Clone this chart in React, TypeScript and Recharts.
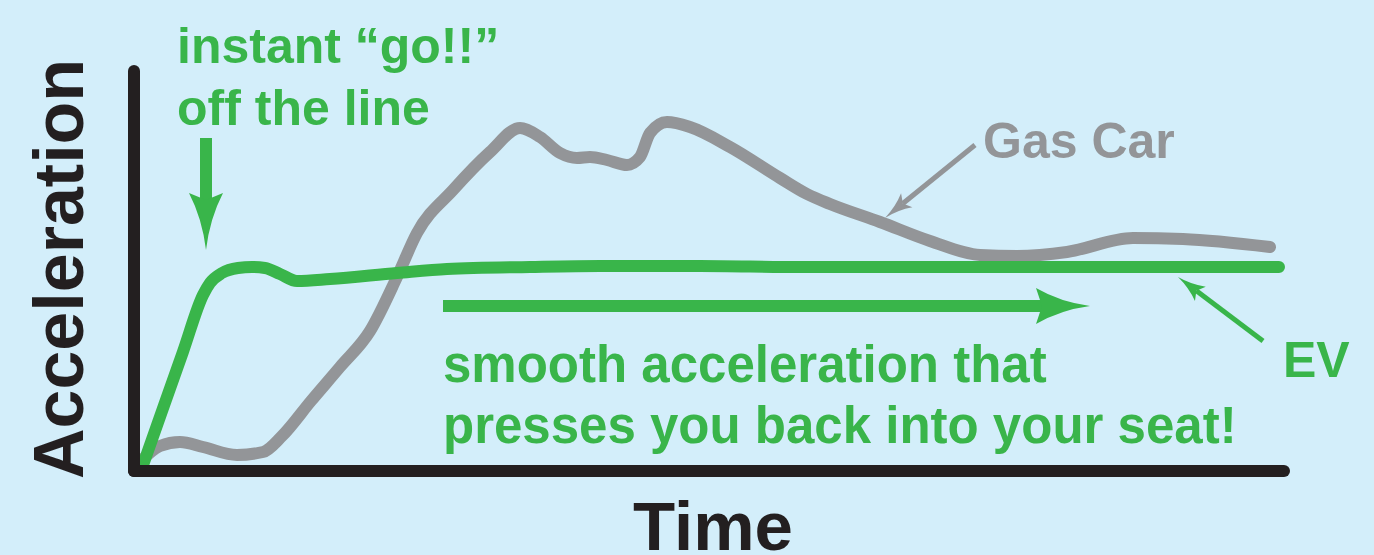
import { LineChart, Line, XAxis, YAxis, ReferenceLine, ReferenceDot, Label } from "recharts";

// time runs 0..115, acceleration 0..100 (arbitrary units)
const gasTime = [0.6, 2.6, 4.6, 6.9, 10.3, 12.9, 14.8, 17.7, 20.6, 23.6, 26.3, 28.3, 31.9, 35.6, 38.6, 40.6, 42.6, 44.3, 45.6, 47.3, 49.3, 50.6, 51.6, 53.3, 55.6, 59.6, 64.6, 67.3, 69.6, 74.6, 79.6, 84.6, 88.3, 93.3, 99.9, 104.9, 113.6];
const gasAccel = [2.25, 6.25, 7.25, 6, 4, 4.75, 8.75, 17.5, 26, 35, 48.5, 59.5, 70.25, 79.75, 85.75, 83.5, 79.5, 78.25, 78.5, 77.75, 76.5, 78.5, 84.5, 87.25, 86, 81, 73.25, 69.25, 66.75, 62.25, 57.5, 54, 53.75, 54.75, 58.25, 58, 56];

const evTime = [0.9, 2.9, 4.9, 6.9, 7.6, 8.8, 10.4, 11.8, 13.1, 14.6, 16.3, 19.6, 26.3, 31.3, 39.6, 46.6, 56.6, 66.6, 86.6, 114.5];
const evAccel = [1.5, 15.67, 29.83, 44, 47, 49.5, 50.75, 51, 50.75, 49.25, 47.5, 48, 49.5, 50.5, 51, 51.25, 51.25, 51, 51, 51];

const gasData = gasTime.map((t, i) => ({ t, a: gasAccel[i] }));
const evData = evTime.map((t, i) => ({ t, a: evAccel[i] }));

const GREEN = "#39b54a";
const GRAY = "#939598";
const INK = "#231f20";
const BG = "#d3eefa";
const FONT = "'Liberation Sans', Arial, Helvetica, sans-serif";

// arrow shape for a ReferenceLine segment, head at the second point
const arrow = (color: string, w: number, L: number, H: number, N: number) => (p: any) => {
  const { x1, y1, x2, y2 } = p;
  const len = Math.hypot(x2 - x1, y2 - y1) || 1;
  const ux = (x2 - x1) / len;
  const uy = (y2 - y1) / len;
  const vx = -uy;
  const vy = ux;
  const P = (b: number, q: number) => `${x2 - b * ux + q * vx},${y2 - b * uy + q * vy}`;
  const d = `M${P(0, 0)} Q${P(L * 0.55, H * 0.22)} ${P(L, H)} L${P(N, 0)} L${P(L, -H)} Q${P(L * 0.55, -H * 0.22)} ${P(0, 0)} Z`;
  return (
    <g>
      <line x1={x1} y1={y1} x2={x2 - N * ux} y2={y2 - N * uy} stroke={color} strokeWidth={w} />
      <path d={d} fill={color} />
    </g>
  );
};

const note = (lines: string[], color: string, size: number, lineGap: number) => (p: any) => (
  <text x={p.cx} y={p.cy} fill={color} fontFamily={FONT} fontWeight={700} fontSize={size}>
    {lines.map((s, i) => (
      <tspan key={i} x={p.cx} dy={i === 0 ? 0 : lineGap}>
        {s}
      </tspan>
    ))}
  </text>
);

const YTitle = ({ viewBox }: any) => {
  const x = viewBox.x + 9;
  const y = viewBox.y + viewBox.height / 2 - 2;
  return (
    <text x={x} y={y} transform={`rotate(-90 ${x} ${y})`} textAnchor="middle" fill={INK} fontFamily={FONT} fontWeight={700} fontSize={70}>
      Acceleration
    </text>
  );
};

const XTitle = ({ viewBox }: any) => (
  <text x={viewBox.x + viewBox.width / 2 + 4} y={viewBox.y + 79} textAnchor="middle" fill={INK} fontFamily={FONT} fontWeight={700} fontSize={69}>
    Time
  </text>
);

export default function App() {
  return (
    <div style={{ position: "absolute", left: 0, top: 0, width: 1374, height: 555, background: BG, overflow: "hidden" }}>
      <LineChart width={1374} height={555} margin={{ top: 71, right: 90, left: 74, bottom: 54 }}>
        <XAxis
          dataKey="t"
          type="number"
          domain={[0, 115]}
          height={30}
          tick={false}
          tickLine={false}
          axisLine={{ stroke: INK, strokeWidth: 12, strokeLinecap: "round" }}
        >
          <Label content={XTitle} />
        </XAxis>
        <YAxis
          type="number"
          domain={[0, 100]}
          width={60}
          tick={false}
          tickLine={false}
          axisLine={{ stroke: INK, strokeWidth: 12, strokeLinecap: "round" }}
        >
          <Label content={YTitle} />
        </YAxis>

        <Line data={gasData} dataKey="a" type="monotone" stroke={GRAY} strokeWidth={12} strokeLinecap="round" dot={false} activeDot={false} isAnimationActive={false} />
        <Line data={evData} dataKey="a" type="monotone" stroke={GREEN} strokeWidth={12} strokeLinecap="round" dot={false} activeDot={false} isAnimationActive={false} />

        <ReferenceLine segment={[{ x: 7.2, y: 83.25 }, { x: 7.2, y: 55.25 }]} ifOverflow="visible" shape={arrow(GREEN, 12, 57, 17, 50)} />
        <ReferenceLine segment={[{ x: 30.9, y: 41.25 }, { x: 95.6, y: 41.25 }]} ifOverflow="visible" shape={arrow(GREEN, 12, 54, 18, 48)} />
        <ReferenceLine segment={[{ x: 84.1, y: 81.5 }, { x: 75.1, y: 63.25 }]} ifOverflow="visible" shape={arrow(GRAY, 5, 28, 9, 23)} />
        <ReferenceLine segment={[{ x: 112.9, y: 32.5 }, { x: 104.4, y: 48.5 }]} ifOverflow="visible" shape={arrow(GREEN, 5, 28, 9, 23)} />

        <ReferenceDot x={4.3} y={102} r={0} ifOverflow="visible" shape={note(["instant \u201cgo!!\u201d", "off the line"], GREEN, 50, 62)} />
        <ReferenceDot x={84.9} y={78.25} r={0} ifOverflow="visible" shape={note(["Gas Car"], GRAY, 50, 0)} />
        <ReferenceDot x={114.9} y={23.5} r={0} ifOverflow="visible" shape={note(["EV"], GREEN, 50, 0)} />
        <ReferenceDot x={30.9} y={22.25} r={0} ifOverflow="visible" shape={note(["smooth acceleration that", "presses you back into your seat!"], GREEN, 51, 61)} />
      </LineChart>
    </div>
  );
}
